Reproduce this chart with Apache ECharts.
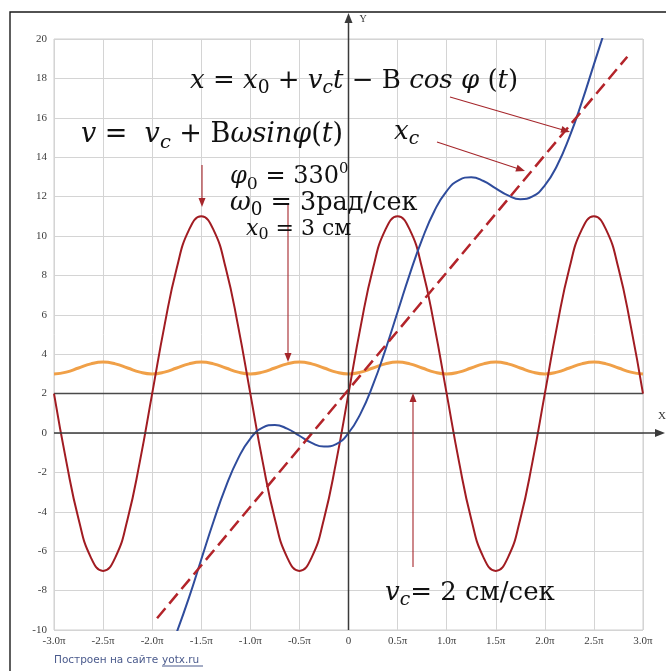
<!DOCTYPE html>
<html>
<head>
<meta charset="utf-8">
<script src="https://cdn.jsdelivr.net/npm/echarts@6/dist/echarts.min.js"></script>
<style>
  html, body { margin: 0; padding: 0; background: #fff; }
  #chart { width: 666px; height: 671px; }
</style>
</head>
<body>
<div id="chart"></div>
<script>
// time axis, in units of π
const tGrid = [-3, -2.875, -2.75, -2.625, -2.5, -2.375, -2.25, -2.125,
  -2, -1.875, -1.75, -1.625, -1.5, -1.375, -1.25, -1.125,
  -1, -0.875, -0.75, -0.625, -0.5, -0.375, -0.25, -0.125,
  0, 0.125, 0.25, 0.375, 0.5, 0.625, 0.75, 0.875,
  1, 1.125, 1.25, 1.375, 1.5, 1.625, 1.75, 1.875,
  2, 2.125, 2.25, 2.375, 2.5, 2.625, 2.75, 2.875, 3];

// v = v_c + Bω sin φ(t)
const velocity = [2, -1.44, -4.36, -6.31, -7, -6.31, -4.36, -1.44, 2, 5.44, 8.36, 10.31, 11, 10.31, 8.36, 5.44,
  2, -1.44, -4.36, -6.31, -7, -6.31, -4.36, -1.44, 2, 5.44, 8.36, 10.31, 11, 10.31, 8.36, 5.44,
  2, -1.44, -4.36, -6.31, -7, -6.31, -4.36, -1.44, 2, 5.44, 8.36, 10.31, 11, 10.31, 8.36, 5.44,
  2];

// small ripple around 3.3
const ripple = [3.0, 3.09, 3.3, 3.51, 3.6, 3.51, 3.3, 3.09,
  3.0, 3.09, 3.3, 3.51, 3.6, 3.51, 3.3, 3.09,
  3.0, 3.09, 3.3, 3.51, 3.6, 3.51, 3.3, 3.09,
  3.0, 3.09, 3.3, 3.51, 3.6, 3.51, 3.3, 3.09,
  3.0, 3.09, 3.3, 3.51, 3.6, 3.51, 3.3, 3.09,
  3.0, 3.09, 3.3, 3.51, 3.6, 3.51, 3.3, 3.09,
  3.0];

// x = x0 + v_c t − B cos φ(t)
const posT = [-1.75, -1.625, -1.5, -1.375, -1.25, -1.125, -1, -0.875, -0.75, -0.625, -0.5, -0.375,
  -0.25, -0.125, 0, 0.125, 0.25, 0.375, 0.5, 0.625, 0.75, 0.875, 1, 1.125,
  1.25, 1.375, 1.5, 1.625, 1.75, 1.875, 2, 2.125, 2.25, 2.375, 2.5, 2.625];
const position = [-10.12, -8.36, -6.42, -4.49, -2.73, -1.30, -0.28, 0.27, 0.41, 0.22, -0.14, -0.50,
  -0.69, -0.56, 0, 1.01, 2.45, 4.21, 6.14, 8.08, 9.83, 11.27, 12.28, 12.84,
  12.98, 12.79, 12.42, 12.06, 11.87, 12.01, 12.57, 13.58, 15.02, 16.77, 18.71, 20.64];

// x_c, centre of oscillation
const centerT = [-1.95, 2.84];
const centerX = [-9.4, 19.1];

// v_c = 2
const vcT = [-3, 3];
const vcV = [2, 2];

const xTickLabels = ['-3.0π', '-2.5π', '-2.0π', '-1.5π', '-1.0π', '-0.5π', '0',
  '0.5π', '1.0π', '1.5π', '2.0π', '2.5π', '3.0π'];

const pairs = (xs, ys) => xs.map((x, i) => [x, ys[i]]);

const chart = echarts.init(document.getElementById('chart'), null, { renderer: 'canvas' });

const labelFont = "'Liberation Serif', 'Times New Roman', serif";

function curve(data, color, width, extra) {
  return Object.assign({
    type: 'line', data: data, showSymbol: false, symbol: 'none', smooth: true,
    lineStyle: { color: color, width: width }, itemStyle: { color: color },
    animation: false, silent: true
  }, extra || {});
}

chart.setOption({
  backgroundColor: '#ffffff',
  animation: false,
  grid: { left: 54, right: 23, top: 39, bottom: 41, show: true, borderColor: '#cfcfcf', borderWidth: 1, containLabel: false, outerBoundsMode: 'none' },
  xAxis: {
    type: 'value', min: -3, max: 3, interval: 0.5,
    axisLine: { show: false }, axisTick: { show: false },
    splitLine: { show: true, lineStyle: { color: '#d4d4d4', width: 1 } },
    axisLabel: {
      margin: 6, fontFamily: labelFont, fontSize: 11, color: '#3c3c3c',
      formatter: v => xTickLabels[Math.round((v + 3) / 0.5)]
    }
  },
  yAxis: {
    type: 'value', min: -10, max: 20, interval: 2,
    axisLine: { show: false }, axisTick: { show: false },
    splitLine: { show: true, lineStyle: { color: '#d4d4d4', width: 1 } },
    axisLabel: { margin: 7, fontFamily: labelFont, fontSize: 11, color: '#3c3c3c' }
  },
  series: [
    curve(pairs(vcT, vcV), '#4a4a4a', 1.5, { smooth: false }),
    curve(pairs(tGrid, ripple), '#f0a048', 3),
    curve(pairs(tGrid, velocity), '#a11c22', 2),
    curve(pairs(posT, position), '#2f4c9c', 2),
    curve(pairs(centerT, centerX), '#b3242a', 2.5, { smooth: false, lineStyle: { color: '#b3242a', width: 2.5, type: [13, 6] } })
  ]
});

// ---- overlay: axes with arrows, formulas, pointer arrows, frame, footer ----
function arrow(x1, y1, x2, y2, color, lw, hl, hw) {
  const dx = x2 - x1, dy = y2 - y1, L = Math.hypot(dx, dy);
  const ux = dx / L, uy = dy / L;
  const bx = x2 - ux * hl, by = y2 - uy * hl;
  return [
    { type: 'line', silent: true, z: 20, shape: { x1: x1, y1: y1, x2: bx + ux, y2: by + uy }, style: { stroke: color, lineWidth: lw } },
    { type: 'polygon', silent: true, z: 20, shape: { points: [[x2, y2], [bx - uy * hw, by + ux * hw], [bx + uy * hw, by - ux * hw]] }, style: { fill: color } }
  ];
}

const mathFont = "'DejaVu Serif', 'Liberation Serif', serif";
function richStyles(S) {
  const c = '#111';
  return {
    i: { fontFamily: mathFont, fontStyle: 'italic', fontSize: S, lineHeight: S * 1.3, fill: c },
    n: { fontFamily: mathFont, fontSize: S, lineHeight: S * 1.3, fill: c },
    sb: { fontFamily: mathFont, fontSize: S * 0.72, lineHeight: S * 0.72, verticalAlign: 'bottom', fill: c },
    sbi: { fontFamily: mathFont, fontStyle: 'italic', fontSize: S * 0.72, lineHeight: S * 0.72, verticalAlign: 'bottom', fill: c },
    sp: { fontFamily: mathFont, fontSize: S * 0.62, lineHeight: S * 0.62, verticalAlign: 'top', fill: c }
  };
}
function formula(x, y, text, S) {
  return {
    type: 'text', x: x, y: y, z: 30, silent: true,
    style: { text: text, rich: richStyles(S), align: 'left', verticalAlign: 'middle', fontFamily: mathFont, fontSize: S, fill: '#111' }
  };
}

const O = chart.convertToPixel({ gridIndex: 0 }, [0, 0]);
const LB = chart.convertToPixel({ gridIndex: 0 }, [-3, -10]);
const axisColor = '#3a3a3a';
const pointer = '#a5262b';

const g = [];
// frame
g.push({ type: 'rect', silent: true, z: 1, shape: { x: 10, y: 12, width: 700, height: 700 }, style: { fill: 'none', stroke: '#1a1a1a', lineWidth: 1.4 } });
// axes
g.push(...arrow(O[0], LB[1], O[0], 13, axisColor, 1.5, 10, 4));
g.push(...arrow(LB[0], O[1], 665, O[1], axisColor, 1.5, 10, 4));
g.push({ type: 'text', x: O[0] + 11, y: 19, silent: true, style: { text: 'Y', fontFamily: labelFont, fontSize: 10, fill: '#333', verticalAlign: 'middle' } });
g.push({ type: 'text', x: 658, y: 416, silent: true, style: { text: 'X', fontFamily: labelFont, fontSize: 11, fill: '#333', verticalAlign: 'middle' } });

// formulas
g.push(formula(190, 81, '{i|x}{n| = }{i|x}{sb|0}{n| + }{i|v}{sbi|c}{i|t}{n| − B }{i|cos φ }{n|(}{i|t}{n|)}', 26));
g.push(formula(81, 135, '{i|v}{n| =  }{i|v}{sbi|c}{n| + B}{i|ωsinφ}{n|(}{i|t}{n|)}', 27));
g.push(formula(394, 132, '{i|x}{sbi|c}', 26));
g.push(formula(230, 177, '{i|φ}{sb|0}{n| = 330}{sp|0}', 24));
g.push(formula(230, 203, '{i|ω}{sb|0}{n| = 3рад/сек}', 25.5));
g.push(formula(246, 229, '{i|x}{sb|0}{n| = 3 см}', 22));
g.push(formula(385, 593, '{i|v}{sbi|c}{n|= 2 см/сек}', 26));

// pointer arrows
g.push(...arrow(450, 97, 570, 132, pointer, 1.1, 9, 3.5));
g.push(...arrow(437, 142, 525, 171, pointer, 1.1, 9, 3.5));
g.push(...arrow(202, 165, 202, 207, pointer, 1.1, 9, 3.5));
g.push(...arrow(288, 205, 288, 362, pointer, 1.1, 9, 3.5));
g.push(...arrow(413, 567, 413, 393, pointer, 1.1, 9, 3.5));

// footer
const footColor = '#4a5a8c';
g.push({ type: 'text', x: 54, y: 660, silent: true, style: { text: 'Построен на сайте', fontFamily: "'DejaVu Sans', sans-serif", fontSize: 10.5, fill: footColor, verticalAlign: 'middle' } });
g.push({ type: 'text', x: 162, y: 660, silent: true, style: { text: 'yotx.ru', fontFamily: "'DejaVu Sans', sans-serif", fontSize: 10.5, fill: footColor, verticalAlign: 'middle' } });
g.push({ type: 'line', silent: true, shape: { x1: 162, y1: 666, x2: 203, y2: 666 }, style: { stroke: footColor, lineWidth: 1 } });

chart.setOption({ graphic: { elements: g } });
</script>
</body>
</html>
